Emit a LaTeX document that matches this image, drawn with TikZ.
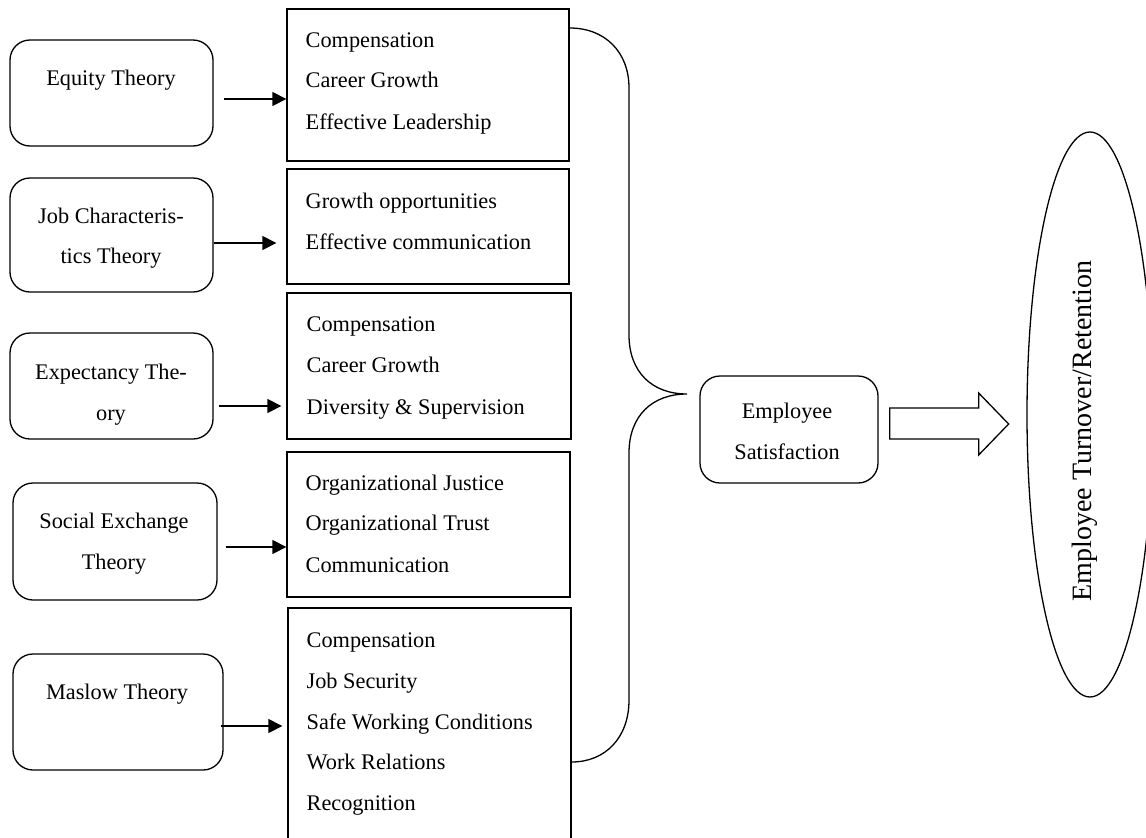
\documentclass[tikz,border=0pt]{standalone}
\usepackage{fontspec}
\setmainfont{Liberation Serif}
\usetikzlibrary{shapes.geometric,arrows.meta,calc}
\begin{document}
\begin{tikzpicture}[x=1pt,y=-1pt,
  line width=1.3pt,
  theory/.style={draw, rounded corners=20pt, inner sep=0pt},
  factor/.style={draw, inner sep=0pt},
  txt/.style={font=\fontsize{22.3}{26}\selectfont, inner sep=0pt},
  item/.style={txt, anchor=base west},
  ctr/.style={txt, anchor=base},
  arr/.style={-{Triangle[length=14pt,width=14pt]}, line width=1.3pt}
]
\useasboundingbox (0,0) rectangle (1146,838);

% theories
\node[theory, minimum width=203pt, minimum height=106pt] (L1) at (111.5,93) {};
\node[theory, minimum width=203pt, minimum height=114pt] (L2) at (111.5,235) {};
\node[theory, minimum width=203pt, minimum height=106pt] (L3) at (111.5,386) {};
\node[theory, minimum width=204pt, minimum height=117pt] (L4) at (115,541.5) {};
\node[theory, minimum width=210pt, minimum height=116pt] (L5) at (118,712) {};

\node[ctr] (t1) at (111,85) {Equity Theory};
\node[ctr] (t2a) at (111,223) {Job Characteris-};
\node[ctr] (t2b) at (111,263) {tics Theory};
\node[ctr] (t3a) at (111,379) {Expectancy The-};
\node[ctr] (t3b) at (111,420) {ory};
\node[ctr] (t4a) at (114,528) {Social Exchange};
\node[ctr] (t4b) at (114,569) {Theory};
\node[ctr] (t5) at (117,699) {Maslow Theory};

% factor boxes
\node[factor, minimum width=282pt, minimum height=152pt] (c1) at (428,85) {};
\node[factor, minimum width=282pt, minimum height=115pt] (c2) at (428,226.5) {};
\node[factor, minimum width=284pt, minimum height=146pt] (c3) at (429,366) {};
\node[factor, minimum width=283pt, minimum height=145pt] (c4) at (428.5,524.5) {};
\node[factor, minimum width=283pt, minimum height=252pt] (c5) at (429.5,734) {};

\node[item] (i11) at (305,47) {Compensation};
\node[item] (i12) at (305,87) {Career Growth};
\node[item] (i13) at (305,129) {Effective Leadership};
\node[item] (i21) at (305,208) {Growth opportunities};
\node[item] (i22) at (305,249) {Effective communication};
\node[item] (i31) at (306,331) {Compensation};
\node[item] (i32) at (306,372) {Career Growth};
\node[item] (i33) at (306,414) {Diversity \& Supervision};
\node[item] (i41) at (305,490) {Organizational Justice};
\node[item] (i42) at (305,530) {Organizational Trust};
\node[item] (i43) at (305,572) {Communication};
\node[item] (i51) at (306,647) {Compensation};
\node[item] (i52) at (306,688) {Job Security};
\node[item] (i53) at (306,729) {Safe Working Conditions};
\node[item] (i54) at (306,769) {Work Relations};
\node[item] (i55) at (306,810) {Recognition};

% theory -> factor arrows
\draw[arr] (L1.east |- 0,99) ++(10,0) -- (c1.west |- 0,99);
\draw[arr] (L2.east |- 0,243) -- ([xshift=-10pt]c2.west |- 0,243);
\draw[arr] (L3.east |- 0,406) ++(5,0) -- ([xshift=-5pt]c3.west |- 0,406);
\draw[arr] (L4.east |- 0,547) ++(8,0) -- (c4.west |- 0,547);
\draw[arr] (L5.east |- 0,726) ++(-3,0) -- ([xshift=-5pt]c5.west |- 0,726);

% brace gathering the factors
\draw (c1.east |- 0,28) .. controls (605,28) and (629,52) .. (629,88)
  -- (629,335) .. controls (629,372) and (652,394) .. (687,394)
  .. controls (652,394) and (629,416) .. (629,453)
  -- (629,700) .. controls (629,738) and (605,762) .. (c5.east |- 0,762);

% satisfaction
\node[theory, minimum width=178pt, minimum height=107pt] (sat) at (789,429.5) {};
\node[ctr] (s1) at (787,418) {Employee};
\node[ctr] (s2) at (787,459) {Satisfaction};

% outcome
\node[draw, ellipse, inner sep=0pt, minimum width=126pt, minimum height=565pt] (ret) at (1090,414.5) {};
\node[txt, rotate=90, font=\fontsize{28}{32}\selectfont] (rl) at (1085,431) {Employee Turnover/Retention};

% block arrow
\coordinate (ba) at ([xshift=11pt]sat.east);
\draw[shift={(ba)}] (0,-21.5) -- (89,-21.5) -- (89,-36.5) -- (119,-5.5)
  -- (89,25.5) -- (89,9.5) -- (0,9.5) -- cycle;
\end{tikzpicture}
\end{document}
